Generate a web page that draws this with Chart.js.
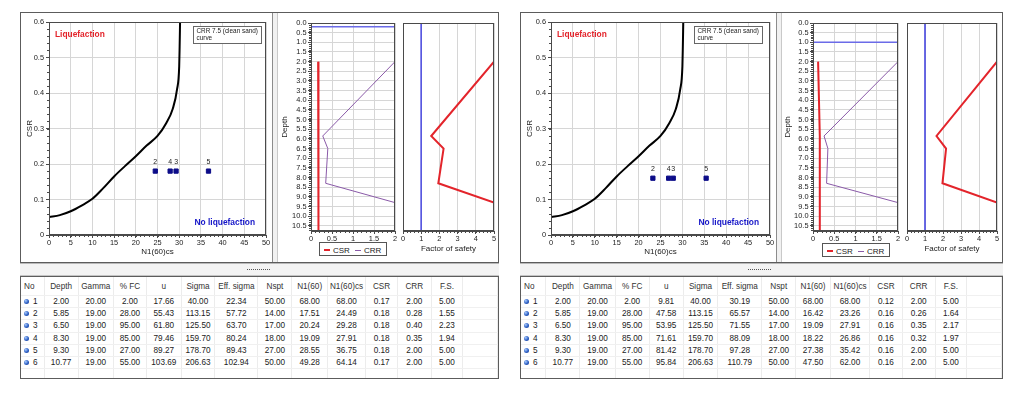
<!DOCTYPE html>
<html>
<head>
<meta charset="utf-8">
<script src="https://cdn.jsdelivr.net/npm/chart.js@4.4.1/dist/chart.umd.min.js"></script>
<style>
  body { margin: 0; width: 1024px; height: 398px; background: #fff; position: relative; overflow: hidden;
         font-family: "Liberation Sans", Arial, sans-serif; }
  .box { position: absolute; box-sizing: border-box; }
  canvas { position: absolute; }
  .frame { border: 1px solid #5c5c5c; }
  .vsplit { background: #f1f1f1; border-left: 1px solid #8c8c8c; border-right: 1px solid #c9c9c9; }
  .hsplit { background: #f3f3f3; border-top: 1px solid #b8b8b8; border-bottom: 1px solid #c4c4c4; }
  .dots { border-top: 1px dotted #555; height: 0; }
  .legend { border: 1px solid #555; background: #fff; font-size: 8px; color: #222; white-space: nowrap; }
  .legend span { position: absolute; top: 3px; }
  .legend i { position: absolute; top: 6px; height: 2px; width: 6px; }
  table { border-collapse: collapse; table-layout: fixed; font-size: 8.2px; color: #222; }
  th, td { padding: 0; text-align: center; border-right: 1px solid #ececec; border-bottom: 1px solid #f0f0f0;
           overflow: hidden; white-space: nowrap; }
  th { height: 18px; font-weight: normal; color: #333; }
  td { height: 11.2px; line-height: 11px; }
  .noc { text-align: left; padding-left: 3px; }
  .ball { display: inline-block; width: 5px; height: 5px; border-radius: 50%; margin-right: 4px; vertical-align: 0px;
          background: radial-gradient(circle at 35% 35%, #a9ccff 0%, #2d5fc4 55%, #15388c 100%); }
</style>
</head>
<body>
<script>
//DATA

// layers (same for both runs)
var layerNo = [1, 2, 3, 4, 5, 6];
var depth = [2.00, 5.85, 6.50, 8.30, 9.30, 10.77];
var gamma = [20.00, 19.00, 19.00, 19.00, 19.00, 19.00];
var fines = [2.00, 28.00, 95.00, 85.00, 27.00, 55.00];
var sigma = [40.00, 113.15, 125.50, 159.70, 178.70, 206.63];
var nspt = [50.00, 14.00, 17.00, 18.00, 27.00, 50.00];

// left run (water at 0.2 m)
var waterA = 0.2;
var uA = [17.66, 55.43, 61.80, 79.46, 89.27, 103.69];
var effSigmaA = [22.34, 57.72, 63.70, 80.24, 89.43, 102.94];
var n160A = [68.00, 17.51, 20.24, 19.09, 28.55, 49.28];
var n160csA = [68.00, 24.49, 29.28, 27.91, 36.75, 64.14];
var csrA = [0.17, 0.18, 0.18, 0.18, 0.18, 0.17];
var crrA = [2.00, 0.28, 0.40, 0.35, 2.00, 2.00];
var fsA = [5.00, 1.55, 2.23, 1.94, 5.00, 5.00];

// right run (water at 1.0 m)
var waterB = 1.0;
var uB = [9.81, 47.58, 53.95, 71.61, 81.42, 95.84];
var effSigmaB = [30.19, 65.57, 71.55, 88.09, 97.28, 110.79];
var n160B = [68.00, 16.42, 19.09, 18.22, 27.38, 47.50];
var n160csB = [68.00, 23.26, 27.91, 26.86, 35.42, 62.00];
var csrB = [0.12, 0.16, 0.16, 0.16, 0.16, 0.16];
var crrB = [2.00, 0.26, 0.35, 0.32, 2.00, 2.00];
var fsB = [5.00, 1.64, 2.17, 1.97, 5.00, 5.00];

// CRR 7.5 clean sand curve
var curveN = [0, 2.5, 5, 7.5, 10, 12.5, 15, 17.5, 20, 22.5, 25, 27, 28.5, 29.5, 30, 30.1, 30.2];
var curveCsr = [0.05, 0.056, 0.067, 0.083, 0.102, 0.132, 0.165, 0.194, 0.222, 0.252, 0.279, 0.315, 0.355, 0.41, 0.475, 0.53, 0.6];

var tableHeads = ["No", "Depth", "Gamma", "% FC", "u", "Sigma", "Eff. sigma", "Nspt", "N1(60)", "N1(60)cs", "CSR", "CRR", "F.S."];

//COLORS
var red = "#e3242b";
var navy = "#0c0c88";
var purple = "#8a5aa8";
var waterBlue = "#6b6be8";
var gridGray = "#d6d6d6";
var axisGray = "#4a4a4a";

//LAYOUT (pixel positions of the two screenshots)
var halves = [
  { frameX: 20, frameW: 479, crrX: 21, crrW: 251, crrAxisW: 28, depthX: 278, depthAxisW: 33, fsX: 399, fsW: 100, fsAxisW: 4, fsPadR: 5,
    legendX: 319, legendY: 242, dotsX: 247, boxGap: 5, colW: [24, 36, 36, 35, 36, 35, 44, 36, 37, 39, 34, 36, 34] },
  { frameX: 520, frameW: 483, crrX: 521, crrW: 255, crrAxisW: 30, depthX: 781, depthAxisW: 32, fsX: 902, fsW: 101, fsAxisW: 5, fsPadR: 6,
    legendX: 822, legendY: 243, dotsX: 748, boxGap: 8, colW: [26, 36, 36, 36, 36, 36, 45, 36, 36, 40, 35, 35, 34] }
];

Chart.defaults.font.family = '"Liberation Sans", Arial, sans-serif';
Chart.defaults.font.size = 7.4;
Chart.defaults.color = "#222";

// small ticks between the labelled ones
var minorTicks = {
  id: "minorTicks",
  afterDraw: function (chart, args, opts) {
    var ctx = chart.ctx;
    ctx.save();
    ctx.strokeStyle = axisGray;
    ctx.lineWidth = 1;
    ["x", "y"].forEach(function (k) {
      var n = opts[k];
      if (!n) return;
      var s = chart.scales[k];
      var step = s.options.ticks.stepSize / n;
      ctx.beginPath();
      for (var i = 0; s.min + i * step <= s.max + 1e-9; i++) {
        var p = Math.round(s.getPixelForValue(s.min + i * step)) + 0.5;
        if (s.isHorizontal()) { ctx.moveTo(p, s.top); ctx.lineTo(p, s.top + 2); }
        else { ctx.moveTo(s.right, p); ctx.lineTo(s.right - 2, p); }
      }
      ctx.stroke();
    });
    ctx.restore();
  }
};

// full box round the plot
var plotFrame = {
  id: "plotFrame",
  afterDraw: function (chart) {
    var a = chart.chartArea, ctx = chart.ctx;
    ctx.save();
    ctx.strokeStyle = axisGray;
    ctx.lineWidth = 1;
    ctx.strokeRect(Math.round(a.left) + 0.5, Math.round(a.top) + 0.5, Math.round(a.right - a.left) - 1, Math.round(a.bottom - a.top) - 1);
    ctx.restore();
  }
};

// texts of the CRR chart
var crrNotes = {
  id: "crrNotes",
  afterDraw: function (chart, args, opts) {
    var a = chart.chartArea, ctx = chart.ctx;
    ctx.save();
    ctx.textBaseline = "middle";
    ctx.font = 'bold 8.4px "Liberation Sans", Arial, sans-serif';
    ctx.fillStyle = red;
    ctx.textAlign = "left";
    ctx.fillText("Liquefaction", a.left + 6, a.top + 13);
    ctx.fillStyle = "#1515c8";
    ctx.textAlign = "right";
    ctx.fillText("No liquefaction", a.right - 11, a.bottom - 12);
    // curve legend box
    var bw = 68, bh = 17;
    var bx = Math.round(a.right - opts.boxGap - bw) + 0.5, by = Math.round(a.top + 4) + 0.5;
    ctx.fillStyle = "#fff";
    ctx.fillRect(bx, by, bw, bh);
    ctx.strokeStyle = "#666";
    ctx.strokeRect(bx, by, bw, bh);
    ctx.fillStyle = "#222";
    ctx.textAlign = "left";
    ctx.font = '6.4px "Liberation Sans", Arial, sans-serif';
    ctx.fillText("CRR 7.5 (clean sand)", bx + 3, by + 5);
    ctx.fillText("curve", bx + 3, by + 12);
    // layer numbers above the points
    ctx.font = '7px "Liberation Sans", Arial, sans-serif';
    ctx.textAlign = "center";
    var ds = chart.data.datasets[1].data;
    chart.getDatasetMeta(1).data.forEach(function (pt, i) {
      if (pt.x > a.right) return;
      ctx.fillText(String(ds[i].no), pt.x, pt.y - 9);
    });
    ctx.restore();
  }
};

function addBox(cls, x, y, w, h) {
  var d = document.createElement("div");
  d.className = "box " + cls;
  d.style.left = x + "px"; d.style.top = y + "px";
  d.style.width = w + "px"; d.style.height = h + "px";
  document.body.appendChild(d);
  return d;
}

function addCanvas(x, y, w, h) {
  var c = document.createElement("canvas");
  c.width = w; c.height = h;
  c.style.left = x + "px"; c.style.top = y + "px";
  document.body.appendChild(c);
  return c;
}

function plainNumber(v) { return String(Math.round(v * 100) / 100); }

function tickStyle(extra) {
  return Object.assign({ color: "#222", padding: 1, maxRotation: 0, autoSkip: false }, extra);
}

function buildHalf(L, run) {
  var maxDepth = depth[depth.length - 1];

  // frames and splitters
  addBox("frame", L.frameX, 12, L.frameW, 251);
  addBox("vsplit", L.crrX + L.crrW, 13, 6, 249);
  addBox("hsplit", L.frameX, 263, L.frameW, 13);
  addBox("dots", L.dotsX, 269, 23, 1);
  addBox("frame", L.frameX, 276, L.frameW, 103).style.overflow = "hidden";

  // CRR vs N1(60)cs chart
  var pts = [];
  for (var i = 0; i < layerNo.length; i++) {
    pts.push({ x: run.n160cs[i], y: run.csr[i], no: layerNo[i] });
  }
  new Chart(addCanvas(L.crrX, 14, L.crrW, 248), {
    type: "scatter",
    data: {
      datasets: [
        { data: curveN.map(function (n, i) { return { x: n, y: curveCsr[i] }; }),
          showLine: true, borderColor: "#000", borderWidth: 2, pointRadius: 0, cubicInterpolationMode: "monotone" },
        { data: pts, pointStyle: "rect", pointRadius: 3, backgroundColor: navy, borderColor: navy, borderWidth: 1 }
      ]
    },
    options: {
      responsive: false, animation: false,
      layout: { padding: { top: 8, right: 6, left: 0, bottom: 0 } },
      plugins: { legend: { display: false }, tooltip: { enabled: false }, minorTicks: { x: 5, y: 5 }, crrNotes: { boxGap: L.boxGap } },
      scales: {
        x: {
          type: "linear", min: 0, max: 50,
          ticks: tickStyle({ stepSize: 5, callback: plainNumber }),
          grid: { color: gridGray, tickColor: axisGray, tickLength: 3 },
          border: { color: axisGray },
          title: { display: true, text: "N1(60)cs", font: { size: 8 }, color: "#222", padding: { top: 0, bottom: 5 } },
          afterFit: function (s) { s.height = 27; }
        },
        y: {
          min: 0, max: 0.6,
          ticks: tickStyle({ stepSize: 0.1, padding: 2, callback: function (v) { return v === 0 ? "0" : v.toFixed(1); } }),
          grid: { color: gridGray, tickColor: axisGray, tickLength: 3 },
          border: { color: axisGray },
          title: { display: true, text: "CSR", font: { size: 8 }, color: "#222", padding: { top: 4, bottom: 0 } },
          afterFit: function (s) { s.width = L.crrAxisW; }
        }
      }
    },
    plugins: [minorTicks, plotFrame, crrNotes]
  });

  // CSR / CRR with depth
  var depthCanvasW = 121;
  new Chart(addCanvas(L.depthX, 14, depthCanvasW, 248), {
    type: "scatter",
    data: {
      datasets: [
        { data: [{ x: 0, y: run.water }, { x: 2, y: run.water }], showLine: true, borderColor: waterBlue, borderWidth: 1.5, pointRadius: 0 },
        { data: depth.map(function (d, i) { return { x: run.crr[i], y: d }; }), showLine: true, borderColor: purple, borderWidth: 1, pointRadius: 0 },
        { data: depth.map(function (d, i) { return { x: run.csr[i], y: d }; }), showLine: true, borderColor: red, borderWidth: 2, pointRadius: 0 }
      ]
    },
    options: {
      responsive: false, animation: false,
      layout: { padding: { top: 9, right: 4, left: 0, bottom: 0 } },
      plugins: { legend: { display: false }, tooltip: { enabled: false }, minorTicks: { x: 5, y: 5 } },
      scales: {
        x: {
          type: "linear", min: 0, max: 2,
          ticks: tickStyle({ stepSize: 0.5, callback: plainNumber }),
          grid: { color: gridGray, tickColor: axisGray, tickLength: 3 },
          border: { color: axisGray },
          afterFit: function (s) { s.height = 31; }
        },
        y: {
          reverse: true, min: 0, max: maxDepth,
          ticks: tickStyle({ stepSize: 0.5, includeBounds: false, padding: 1.5, callback: function (v) { return v.toFixed(1); } }),
          grid: { color: gridGray, tickColor: axisGray, tickLength: 3 },
          border: { color: axisGray },
          title: { display: true, text: "Depth", font: { size: 8 }, color: "#222", padding: { top: 2, bottom: 0 } },
          afterFit: function (s) { s.width = L.depthAxisW; }
        }
      }
    },
    plugins: [minorTicks, plotFrame]
  });

  // legend of the depth chart
  var lg = addBox("legend", L.legendX, L.legendY, 68, 14);
  lg.innerHTML = '<i style="left:4px;background:' + red + '"></i><span style="left:13px">CSR</span>' +
                 '<i style="left:35px;height:1px;top:6.5px;background:' + purple + '"></i><span style="left:44px">CRR</span>';

  // factor of safety with depth
  new Chart(addCanvas(L.fsX, 14, L.fsW, 248), {
    type: "scatter",
    data: {
      datasets: [
        { data: [{ x: 1, y: 0 }, { x: 1, y: maxDepth }], showLine: true, borderColor: "#5555e0", borderWidth: 1, pointRadius: 0 },
        { data: depth.map(function (d, i) { return { x: run.fs[i], y: d }; }), showLine: true, borderColor: red, borderWidth: 2, pointRadius: 0 }
      ]
    },
    options: {
      responsive: false, animation: false,
      layout: { padding: { top: 9, right: L.fsPadR, left: 0, bottom: 0 } },
      plugins: { legend: { display: false }, tooltip: { enabled: false }, minorTicks: { x: 5 } },
      scales: {
        x: {
          type: "linear", min: 0, max: 5,
          ticks: tickStyle({ stepSize: 1, callback: plainNumber }),
          grid: { color: gridGray, tickColor: axisGray, tickLength: 3 },
          border: { color: axisGray },
          title: { display: true, text: "Factor of safety", font: { size: 8 }, color: "#222", padding: { top: 0, bottom: 8 } },
          afterFit: function (s) { s.height = 31; }
        },
        y: {
          reverse: true, min: 0, max: maxDepth,
          ticks: { display: false, stepSize: 0.5 },
          grid: { display: false },
          border: { color: axisGray },
          afterFit: function (s) { s.width = L.fsAxisW; }
        }
      }
    },
    plugins: [minorTicks, plotFrame]
  });

  // results table
  var rows = [];
  for (var r = 0; r < layerNo.length; r++) {
    rows.push([depth[r], gamma[r], fines[r], run.u[r], sigma[r], run.effSigma[r], nspt[r], run.n160[r], run.n160cs[r], run.csr[r], run.crr[r], run.fs[r]]);
  }
  var html = "<table><colgroup>";
  L.colW.forEach(function (w) { html += '<col style="width:' + w + 'px">'; });
  html += '<col style="width:40px"></colgroup><tr>';
  tableHeads.forEach(function (h, i) { html += '<th' + (i === 0 ? ' class="noc"' : '') + '>' + h + '</th>'; });
  html += '<th></th></tr>';
  rows.forEach(function (row, i) {
    html += '<tr><td class="noc"><span class="ball"></span>' + layerNo[i] + '</td>';
    row.forEach(function (v) { html += '<td>' + v.toFixed(2) + '</td>'; });
    html += '<td></td></tr>';
  });
  html += '<tr>' + '<td></td>'.repeat(14) + '</tr></table>';
  var tb = addBox("", L.frameX + 1, 277, L.frameW - 2, 101);
  tb.style.overflow = "hidden";
  tb.innerHTML = html;
}

buildHalf(halves[0], { water: waterA, u: uA, effSigma: effSigmaA, n160: n160A, n160cs: n160csA, csr: csrA, crr: crrA, fs: fsA });
buildHalf(halves[1], { water: waterB, u: uB, effSigma: effSigmaB, n160: n160B, n160cs: n160csB, csr: csrB, crr: crrB, fs: fsB });
</script>
</body>
</html>
